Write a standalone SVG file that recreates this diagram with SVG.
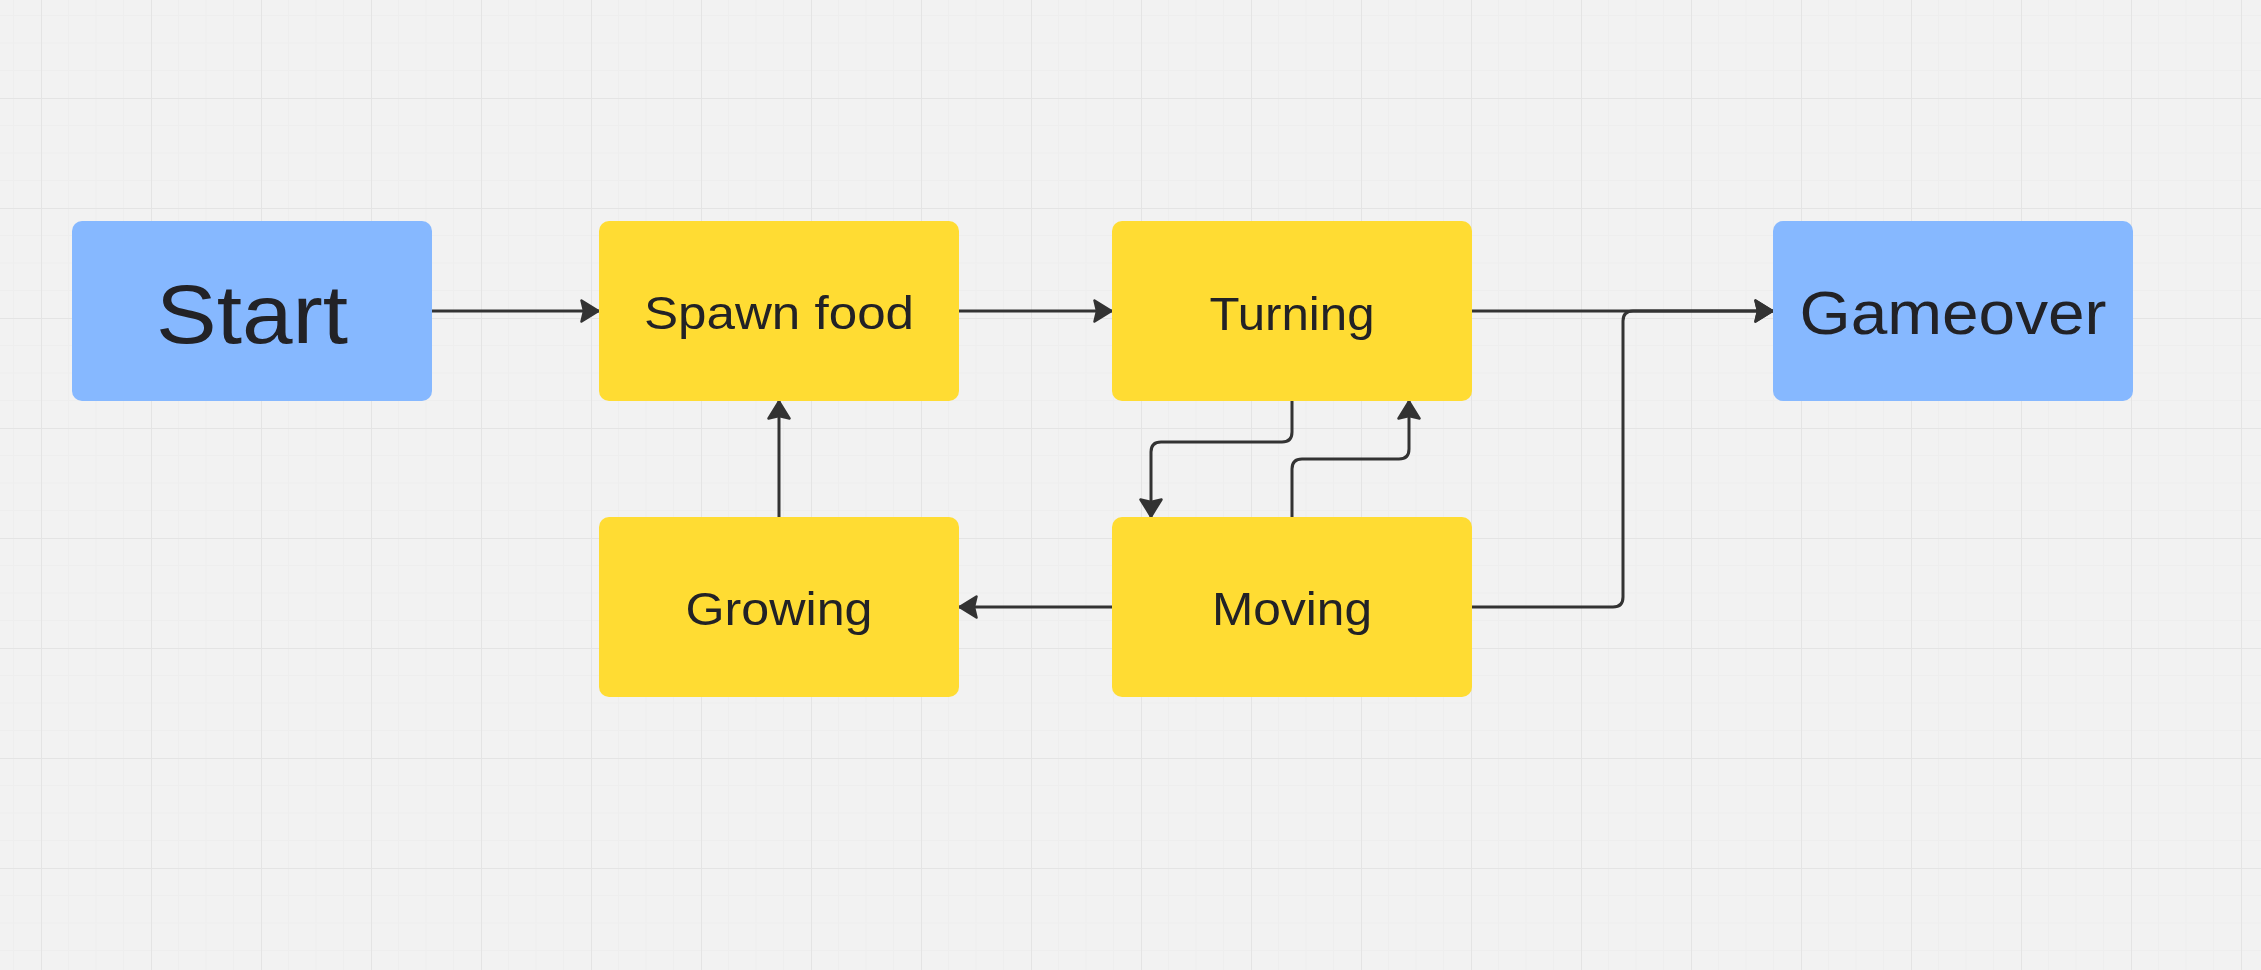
<svg xmlns="http://www.w3.org/2000/svg" width="2261" height="970" viewBox="0 0 2261 970">
  <defs>
    <pattern id="grid" x="41" y="98" width="110" height="110" patternUnits="userSpaceOnUse">
      <path d="M27.5,0V110M55,0V110M82.5,0V110M0,27.5H110M0,55H110M0,82.5H110" stroke="#eeeeee" stroke-width="1" fill="none"/>
      <path d="M0,0V110M0,0H110" stroke="#e4e4e4" stroke-width="2" fill="none"/>
    </pattern>
    <marker id="arrow" markerUnits="userSpaceOnUse" markerWidth="20" markerHeight="24" viewBox="0 0 20 24" refX="19" refY="12" orient="auto">
      <path d="M1.5,1.5 L18.5,12 L1.5,22.5 L4,12 Z" fill="#333333" stroke="#333333" stroke-width="2.5" stroke-linejoin="round"/>
    </marker>
    <style>
      .conn { fill: none; stroke: #333333; stroke-width: 3; marker-end: url(#arrow); }
      .blue { fill: #86b8ff; }
      .yellow { fill: #ffdc33; }
      .label { font-family: "Liberation Sans", Arial, sans-serif; fill: #222226; text-anchor: middle; }
      .small { font-size: 47px; }
    </style>
  </defs>
  <rect width="2261" height="970" fill="#f2f2f2"/>
  <rect width="2261" height="970" fill="url(#grid)"/>

  <g id="connectors">
    <path class="conn" d="M432,311 L599,311"/>
    <path class="conn" d="M959,311 L1112,311"/>
    <path class="conn" d="M1471,311 L1773,311"/>
    <path class="conn" d="M1471,607 L1613,607 Q1623,607 1623,597 L1623,321 Q1623,311 1633,311 L1773,311"/>
    <path class="conn" d="M1292,401 L1292,432 Q1292,442 1282,442 L1161,442 Q1151,442 1151,452 L1151,517"/>
    <path class="conn" d="M1292,517 L1292,469 Q1292,459 1302,459 L1399,459 Q1409,459 1409,449 L1409,401"/>
    <path class="conn" d="M1112,607 L959,607"/>
    <path class="conn" d="M779,517 L779,401"/>
  </g>

  <g id="start">
    <rect class="blue" x="72" y="221" width="360" height="180" rx="10"/>
    <text class="label" x="252" y="343" font-size="84" textLength="192" lengthAdjust="spacingAndGlyphs">Start</text>
  </g>
  <g id="spawn-food">
    <rect class="yellow" x="599" y="221" width="360" height="180" rx="10"/>
    <text class="label small" x="779" y="329" textLength="270" lengthAdjust="spacingAndGlyphs">Spawn food</text>
  </g>
  <g id="turning">
    <rect class="yellow" x="1112" y="221" width="360" height="180" rx="10"/>
    <text class="label small" x="1292" y="330" textLength="165" lengthAdjust="spacingAndGlyphs">Turning</text>
  </g>
  <g id="gameover">
    <rect class="blue" x="1773" y="221" width="360" height="180" rx="10"/>
    <text class="label" x="1953" y="334" font-size="62" textLength="307" lengthAdjust="spacingAndGlyphs">Gameover</text>
  </g>
  <g id="growing">
    <rect class="yellow" x="599" y="517" width="360" height="180" rx="10"/>
    <text class="label small" x="779" y="625" textLength="187" lengthAdjust="spacingAndGlyphs">Growing</text>
  </g>
  <g id="moving">
    <rect class="yellow" x="1112" y="517" width="360" height="180" rx="10"/>
    <text class="label small" x="1292" y="625" textLength="160" lengthAdjust="spacingAndGlyphs">Moving</text>
  </g>
</svg>
